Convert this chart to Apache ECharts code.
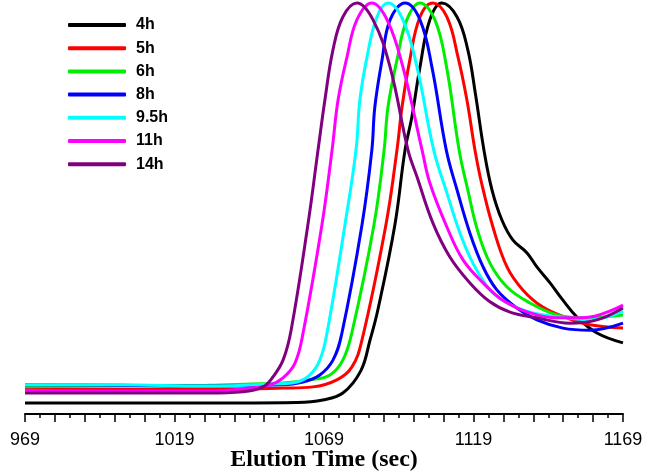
<!DOCTYPE html>
<html>
<head>
<meta charset="utf-8">
<script src="https://cdn.jsdelivr.net/npm/echarts@6/dist/echarts.min.js"></script>
<style>html,body{margin:0;padding:0;background:#fff}#c{width:645px;height:472px}</style>
</head>
<body>
<div id="c"></div>
<script>
// Elution time (sec) vs normalized detector response (%)
const seriesNames = ['4h', '5h', '6h', '8h', '9.5h', '11h', '14h'];
const xTickLabels = [969, 1019, 1069, 1119, 1169];

const s4h = [[969,2.7],[1000,2.7],[1040,2.7],[1060,2.8],[1068.6,3.4],[1075.3,5.1],[1081.3,10.5],[1084.4,18.0],[1087,25.3],[1092.7,46.0],[1096.1,64.2],[1098.4,72.3],[1101.1,84.4],[1104.4,95.9],[1108.4,100],[1113.5,96.6],[1117.1,88.6],[1119.6,78.1],[1122.5,64.2],[1125.2,54.5],[1128.5,47.2],[1132.2,42.3],[1136.9,39.2],[1140.2,35.8],[1144.6,31.9],[1148.9,27.7],[1153.6,23.6],[1160.3,19.7],[1169,17.3]];
const s5h = [[969,6.0],[1000,6.0],[1030,6.0],[1055.3,6.3],[1065.3,6.6],[1073.3,8.3],[1078.3,11.4],[1081.7,18.0],[1089.7,46.0],[1093.4,64.2],[1095.1,74.7],[1097.7,86.1],[1101.1,96.6],[1105.4,100],[1110.1,96.6],[1113.8,86.9],[1116.8,76.4],[1119.5,64.2],[1121.7,56.2],[1125.5,45.5],[1130.2,35.8],[1135.5,30.2],[1142.2,26.0],[1150.2,23.4],[1157.9,21.7],[1169,20.9]];
const s6h = [[969,6.6],[1000,6.8],[1030,7.0],[1045,7.3],[1054.3,7.5],[1064.3,8.3],[1071,9.5],[1075.3,13.1],[1078.3,19.7],[1085.7,46.0],[1089.1,64.2],[1090.4,74.7],[1093.4,86.1],[1096.7,95.9],[1101.1,100],[1106.1,95.9],[1110.0,84.4],[1114.2,64.2],[1117.1,54.5],[1120.3,44.8],[1124.5,36.7],[1130.2,30.9],[1137.9,27.0],[1146.9,24.1],[1155.6,23.4],[1169,24.1]];
const s8h = [[969,7.1],[1000,7.0],[1030,6.8],[1054.3,7.1],[1062,7.8],[1067.6,9.5],[1072,13.1],[1075,19.7],[1081.7,46.0],[1085,64.2],[1086,74.7],[1088.4,86.1],[1091.1,95.9],[1096.1,100],[1101.1,95.9],[1105.1,84.4],[1109.9,64.2],[1113.5,54.5],[1117.8,44.0],[1122.2,35.8],[1126.8,30.2],[1133.5,25.8],[1140.2,22.9],[1148.9,20.9],[1157.9,20.4],[1169,22.1]];
const s9_5h = [[969,7.1],[1000,7.1],[1030,6.8],[1051.9,7.3],[1060,7.8],[1064.3,9.5],[1067.6,13.1],[1070,19.7],[1076,46.0],[1079.7,64.2],[1081,76.4],[1083.4,86.9],[1086.7,96.6],[1090.4,100],[1095.4,95.9],[1100.1,84.4],[1105.7,64.2],[1110.1,53.8],[1114.5,44.0],[1118.8,36.7],[1124.5,30.2],[1130.2,27.0],[1138.9,24.6],[1150.2,23.4],[1157.9,22.9],[1169,25.0]];
const s11h = [[969,5.8],[1000,5.6],[1030,5.6],[1044.2,6.3],[1050.9,7.1],[1055.3,8.8],[1059.3,12.4],[1062,19.7],[1068.3,46.0],[1071.7,64.2],[1073.7,76.4],[1076.7,86.9],[1080,95.9],[1085,100],[1090.1,95.9],[1095.4,84.4],[1101.8,64.2],[1104.4,56.2],[1110.1,45.5],[1115.5,37.5],[1122.2,31.9],[1128.8,27.7],[1137.9,24.6],[1146.9,23.4],[1155.6,23.4],[1169,26.5]];
const s14h = [[969,5.1],[1000,5.1],[1030,5.1],[1041.9,5.4],[1048.6,6.6],[1051.9,9.0],[1055.3,13.1],[1058,20.4],[1063.6,46.0],[1067,64.2],[1069.3,76.4],[1072,88.6],[1075.3,96.6],[1080,100],[1085.4,95.9],[1091.1,84.4],[1097.1,64.2],[1100.1,57.7],[1105.4,46.5],[1111.1,38.2],[1117.8,31.9],[1124.5,27.3],[1131.2,24.8],[1140.2,23.4],[1151.2,22.1],[1160.3,22.9],[1169,25.8]];

const allData = [s4h, s5h, s6h, s8h, s9_5h, s11h, s14h];
const colors = ['#000000', '#ff0000', '#00ee00', '#0000ff', '#00ffff', '#ff00ff', '#800080'];

const chart = echarts.init(document.getElementById('c'), null, {renderer: 'canvas'});
chart.setOption({
  animation: false,
  color: colors,
  grid: {left: 25, right: 22, top: 3, bottom: 58, containLabel: false, outerBoundsMode: 'none'},
  legend: {
    orient: 'vertical',
    left: 68,
    top: 17,
    padding: 0,
    itemWidth: 58,
    itemHeight: 4,
    itemGap: 7.2,
    icon: 'roundRect',
    data: seriesNames,
    textStyle: {fontFamily: 'Liberation Sans', fontWeight: 'bold', fontSize: 16, color: '#000', lineHeight: 16, padding: [0, 0, 0, 5]}
  },
  xAxis: {
    type: 'value',
    min: 969,
    max: 1169,
    interval: 10,
    name: 'Elution Time (sec)',
    nameLocation: 'middle',
    nameGap: 34,
    nameMoveOverlap: false,
    nameTextStyle: {fontFamily: 'Liberation Serif', fontWeight: 'bold', fontSize: 24, color: '#000'},
    axisLine: {show: true, lineStyle: {color: '#000', width: 2}},
    axisTick: {show: true, length: 8, lineStyle: {color: '#000', width: 1.5}},
    minorTick: {show: true, splitNumber: 2, length: 4, lineStyle: {color: '#000', width: 1.5}},
    splitLine: {show: false},
    minorSplitLine: {show: false},
    axisLabel: {
      margin: 17,
      fontFamily: 'Liberation Sans',
      fontSize: 18,
      color: '#000',
      showMaxLabel: true,
      showMinLabel: true,
      formatter: function (v) { return xTickLabels.indexOf(Math.round(v)) >= 0 ? String(Math.round(v)) : ''; }
    }
  },
  yAxis: {
    type: 'value',
    min: 0,
    max: 100,
    show: false
  },
  series: seriesNames.map(function (name, i) {
    return {
      name: name,
      type: 'line',
      data: allData[i],
      smooth: 0.4,
      showSymbol: false,
      symbol: 'none',
      clip: false,
      lineStyle: {width: 3, color: colors[i]},
      itemStyle: {color: colors[i]}
    };
  })
});
</script>
</body>
</html>
